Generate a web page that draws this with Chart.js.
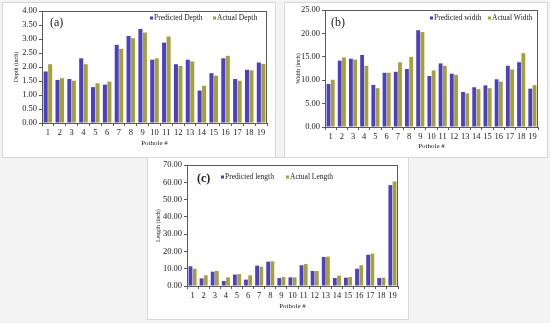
<!DOCTYPE html>
<html><head><meta charset="utf-8">
<script src="https://cdn.jsdelivr.net/npm/chart.js@4/dist/chart.umd.min.js"></script>
<style>
html,body{margin:0;padding:0;background:#f3f3f3;width:550px;height:323px;overflow:hidden;font-family:"Liberation Serif",serif;}
.panel{position:absolute;background:#fff;box-shadow:0 0 0 1px #d8d8d8;}
.panel canvas{position:absolute;left:0;top:0;}
.tag{position:absolute;font-family:"Liberation Serif",serif;font-size:12px;line-height:12px;color:#222;}
</style></head><body>
<div class="panel" style="left:3px;top:3px;width:272px;height:154px"><canvas id="ca" width="272" height="154"></canvas><div class="tag" style="left:47px;top:13px">(a)</div></div>
<div class="panel" style="left:285px;top:3px;width:262px;height:154px"><canvas id="cb" width="262" height="154"></canvas><div class="tag" style="left:46px;top:13px">(b)</div></div>
<div class="panel" style="left:148px;top:158px;width:260px;height:161px"><canvas id="cc" width="260" height="161"></canvas><div class="tag" style="left:49px;top:14px;font-weight:bold">(c)</div></div>
<script>
const potholes = ['1','2','3','4','5','6','7','8','9','10','11','12','13','14','15','16','17','18','19'];

const depthPredicted = [1.84,1.54,1.57,2.31,1.28,1.37,2.79,3.11,3.36,2.26,2.87,2.10,2.26,1.16,1.78,2.31,1.57,1.90,2.16];
const depthActual    = [2.10,1.60,1.51,2.10,1.42,1.48,2.65,3.03,3.23,2.31,3.09,2.04,2.20,1.33,1.69,2.40,1.51,1.88,2.11];

const widthPredicted = [9.2,14.2,14.6,15.4,9.0,11.6,11.8,12.4,20.7,10.9,13.6,11.4,7.5,8.5,8.9,10.2,13.1,13.85,8.2];
const widthActual    = [10.1,14.9,14.4,13.1,8.3,11.6,13.85,15.0,20.3,12.1,13.1,11.15,7.2,8.1,8.3,9.7,12.3,15.8,8.95];

const lengthPredicted = [11.4,4.4,8.3,2.9,6.6,3.7,11.8,14.1,4.6,5.0,12.0,8.7,16.8,4.6,4.8,10.0,18.1,4.6,58.4];
const lengthActual    = [10.0,6.2,8.7,5.0,6.9,6.2,11.2,14.3,5.2,5.0,12.7,8.7,17.0,6.0,5.2,12.0,18.7,4.8,60.5];

const PRED = '#4B3FC3', ACT = '#A5A13A', AXIS = '#5a5a5a', TXT = '#222';

function makeChart(id, cfg){
  const legendPlugin = {
    id:'customLegend',
    afterDraw(chart){
      const ctx = chart.ctx;
      ctx.save();
      ctx.font = '7.5px "Liberation Serif"';
      ctx.textBaseline = 'middle';
      ctx.fillStyle = TXT;
      const items = [[cfg.lx1, PRED, cfg.predLabel],[cfg.lx2, ACT, cfg.actLabel]];
      items.forEach(([x,c,t])=>{
        ctx.fillStyle = c; ctx.fillRect(x, cfg.ly-1.5, 3, 3);
        ctx.fillStyle = TXT; ctx.fillText(t, x+4, cfg.ly);
      });
      ctx.restore();
    }
  };
  const borderPlugin = {
    id:'plotBorder',
    afterDatasetsDraw(chart){
      const a = chart.chartArea, ctx = chart.ctx;
      ctx.save(); ctx.strokeStyle = AXIS; ctx.lineWidth = 1;
      ctx.strokeRect(Math.round(a.left)+0.5, Math.round(a.top)+0.5, Math.round(a.right-a.left)-1, Math.round(a.bottom-a.top));
      ctx.restore();
    }
  };
  return new Chart(document.getElementById(id), {
    type:'bar',
    data:{labels:potholes, datasets:[
      {label:cfg.predLabel, data:cfg.pred, backgroundColor:PRED, categoryPercentage:0.76, barPercentage:0.9},
      {label:cfg.actLabel, data:cfg.act, backgroundColor:ACT, categoryPercentage:0.76, barPercentage:0.9}
    ]},
    options:{
      responsive:false, animation:false, devicePixelRatio:1,
      layout:{padding:{left:0, top:cfg.padTop, right:cfg.padRight, bottom:0}},
      plugins:{legend:{display:false}, tooltip:{enabled:false}},
      scales:{
        x:{
          afterFit(s){ s.height = cfg.xH; },
          grid:{display:true, offset:true, drawOnChartArea:false, drawTicks:true, tickLength:3, color:AXIS},
          border:{display:true, color:AXIS},
          ticks:{color:TXT, font:{family:'"Liberation Serif"', size:8.5}, padding:2, maxRotation:0, autoSkip:false},
          title:{display:true, text:'Pothole #', color:TXT, font:{family:'"Liberation Serif"', size:7}, padding:{top:0,bottom:cfg.xTitlePad}}
        },
        y:{
          min:0, max:cfg.yMax,
          afterFit(s){ s.width = cfg.yW; },
          grid:{display:true, drawOnChartArea:false, drawTicks:true, tickLength:3, color:AXIS},
          border:{display:true, color:AXIS},
          ticks:{stepSize:cfg.yStep, color:TXT, font:{family:'"Liberation Serif"', size:8.5}, padding:2, callback:v=>Number(v).toFixed(2)},
          title:{display:true, text:cfg.yTitle, color:TXT, font:{family:'"Liberation Serif"', size:6}, padding:{top:cfg.yTitlePad,bottom:0}}
        }
      }
    },
    plugins:[borderPlugin, legendPlugin]
  });
}

makeChart('ca', {pred:depthPredicted, act:depthActual, predLabel:'Predicted Depth', actLabel:'Actual Depth',
  yTitle:'Depth (inch)', yMax:4, yStep:0.5, yW:39, xH:34, padTop:8, padRight:8, yTitlePad:10, xTitlePad:9.8,
  lx1:147, lx2:210, ly:15});
makeChart('cb', {pred:widthPredicted, act:widthActual, predLabel:'Predicted width', actLabel:'Actual Width',
  yTitle:'Width (inch)', yMax:25, yStep:5, yW:40, xH:30, padTop:7, padRight:9, yTitlePad:9.4, xTitlePad:6.8,
  lx1:145, lx2:203, ly:15});
makeChart('cc', {pred:lengthPredicted, act:lengthActual, predLabel:'Predicted length', actLabel:'Actual Length',
  yTitle:'Length (inch)', yMax:70, yStep:10, yW:39, xH:33, padTop:7, padRight:10, yTitlePad:6.4, xTitlePad:8.8,
  lx1:73, lx2:138, ly:19});
</script>
</body></html>
